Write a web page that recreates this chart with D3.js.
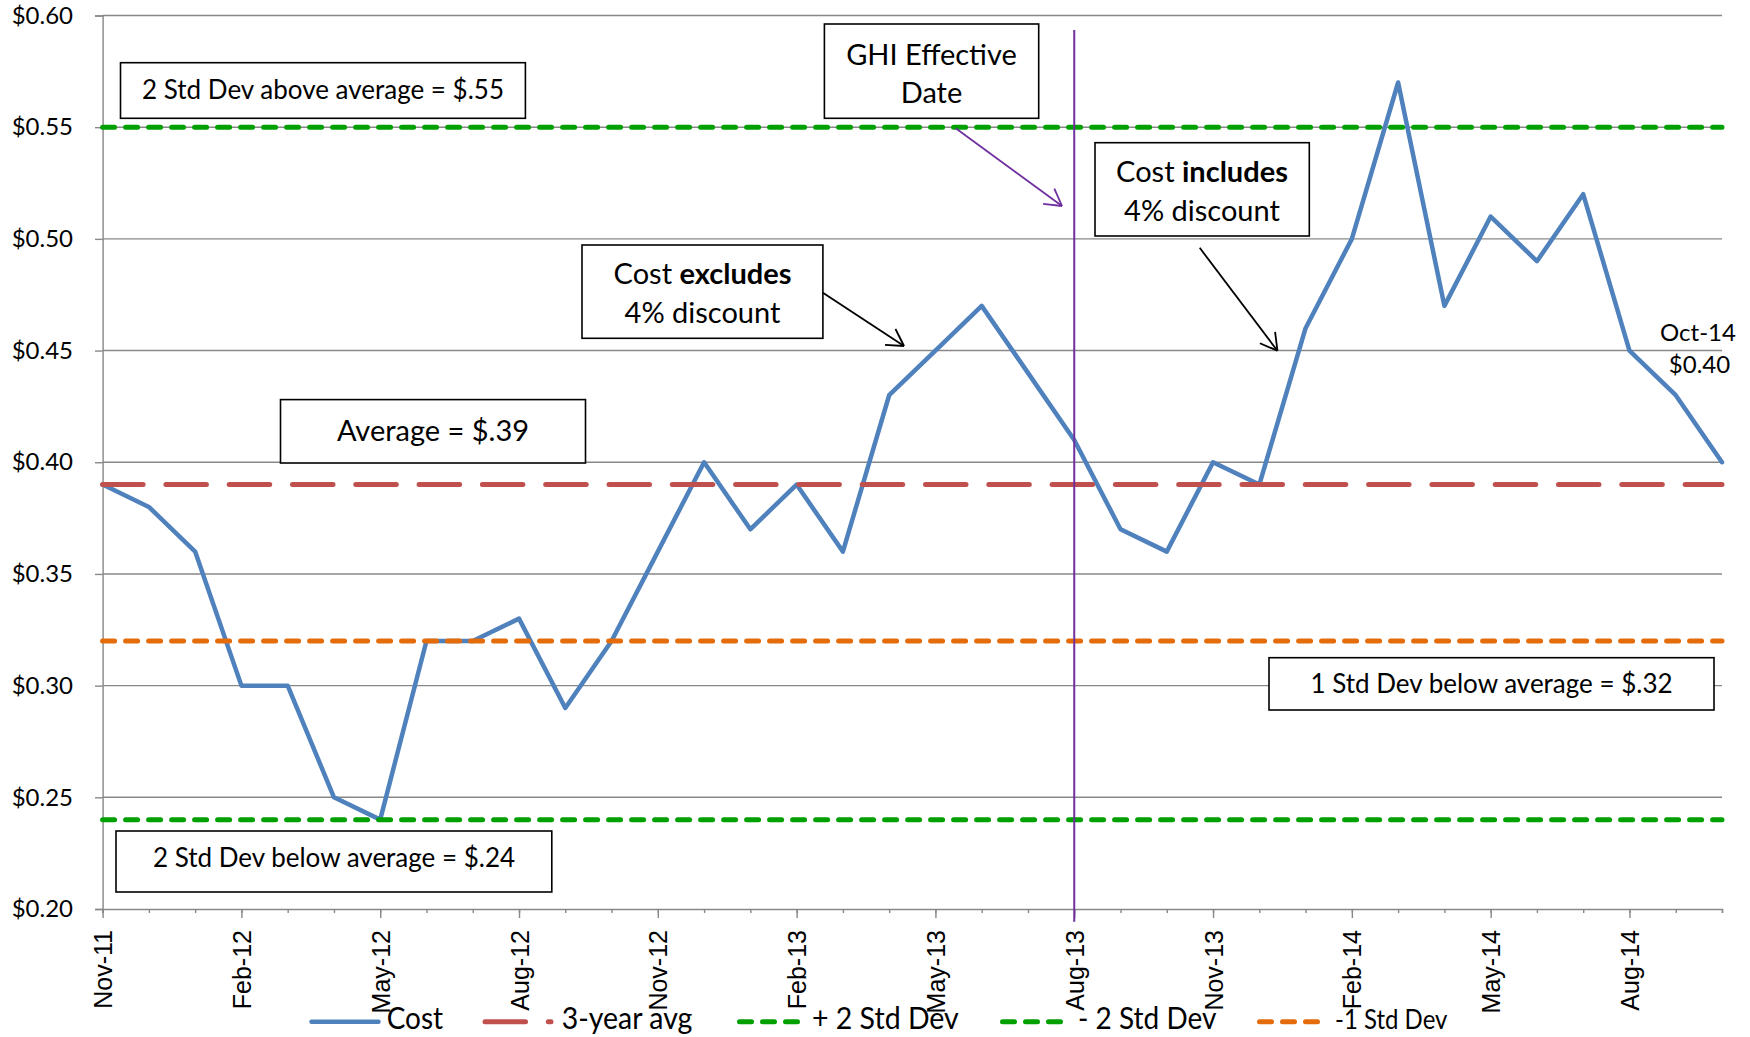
<!DOCTYPE html>
<html>
<head>
<meta charset="utf-8">
<script src="https://cdn.jsdelivr.net/npm/d3@7"></script>
<style>
  html, body { margin: 0; padding: 0; background: #fff; }
  svg { display: block; }
</style>
</head>
<body>
<svg id="chart" width="1750" height="1037"></svg>
<script>
// Monthly cost per unit, Nov-11 through Oct-14
const months = [
  "Nov-11","Dec-11","Jan-12","Feb-12","Mar-12","Apr-12","May-12","Jun-12","Jul-12","Aug-12","Sep-12","Oct-12",
  "Nov-12","Dec-12","Jan-13","Feb-13","Mar-13","Apr-13","May-13","Jun-13","Jul-13","Aug-13","Sep-13","Oct-13",
  "Nov-13","Dec-13","Jan-14","Feb-14","Mar-14","Apr-14","May-14","Jun-14","Jul-14","Aug-14","Sep-14","Oct-14"
];
const cost = [
  0.39, 0.38, 0.36, 0.30, 0.30, 0.25, 0.24, 0.32, 0.32, 0.33, 0.29, 0.32,
  0.36, 0.40, 0.37, 0.39, 0.36, 0.43, 0.45, 0.47, 0.44, 0.41, 0.37, 0.36,
  0.40, 0.39, 0.46, 0.50, 0.57, 0.47, 0.51, 0.49, 0.52, 0.45, 0.43, 0.40
];
// Control limits
const refNames  = ["3-year avg", "+ 2 Std Dev", "- 2 Std Dev", "-1 Std Dev"];
const refValues = [0.39, 0.55, 0.24, 0.32];
// Axis ticks
const xTickLabels = ["Nov-11","Feb-12","May-12","Aug-12","Nov-12","Feb-13","May-13","Aug-13","Nov-13","Feb-14","May-14","Aug-14"];
const yTicks = [0.20, 0.25, 0.30, 0.35, 0.40, 0.45, 0.50, 0.55, 0.60];
const effectiveMonth = "Aug-13";

// ---- styles ----
const costStyle = { color: "#4F81BD", width: 4.5 };
const refStyle = {
  "3-year avg":  { color: "#C0504D", width: 5, dash: "40.5 22.8" },
  "+ 2 Std Dev": { color: "#00A000", width: 5, dash: "12 11" },
  "- 2 Std Dev": { color: "#00A000", width: 5, dash: "12 11" },
  "-1 Std Dev":  { color: "#E46C0A", width: 5, dash: "12 11" }
};
const axisColor = "#888888";
const purple = "#7030A0";
const textFont = "Lato, 'Open Sans', sans-serif";
const tickFont = "'Liberation Sans', Arial, sans-serif";

const plot = { left: 102.6, right: 1722, top: 15.5, bottom: 909 };
const svg = d3.select("#chart");

const x = d3.scalePoint().domain(months).range([plot.left, plot.right]);
const y = d3.scaleLinear().domain([0.20, 0.60]).range([plot.bottom, plot.top]);

// ---- gridlines ----
svg.append("g").selectAll("line")
  .data(yTicks.filter(v => v > 0.20))
  .join("line")
  .attr("x1", plot.left).attr("x2", plot.right)
  .attr("y1", d => y(d)).attr("y2", d => y(d))
  .attr("stroke", axisColor).attr("stroke-width", 1.4);

// ---- y axis ----
const yAxis = svg.append("g")
  .attr("transform", `translate(${plot.left},0)`)
  .call(d3.axisLeft(y).tickValues(yTicks).tickFormat(d3.format("$.2f")).tickSize(7.6).tickPadding(22));
yAxis.select(".domain").attr("stroke", axisColor).attr("stroke-width", 1.4);
yAxis.selectAll(".tick line").attr("stroke", axisColor).attr("stroke-width", 1.4);
yAxis.selectAll(".tick text")
  .attr("fill", "#000").style("font-family", textFont).style("font-size", "24px");

// ---- x axis: monthly minor ticks, quarterly labelled ticks ----
const xMinor = svg.append("g")
  .attr("transform", `translate(0,${plot.bottom})`)
  .call(d3.axisBottom(x).tickValues(months).tickSize(4).tickFormat(""));
xMinor.select(".domain").attr("stroke", axisColor).attr("stroke-width", 1.4);
xMinor.selectAll(".tick line").attr("stroke", axisColor).attr("stroke-width", 1.4);

const xMajor = svg.append("g")
  .attr("transform", `translate(0,${plot.bottom})`)
  .call(d3.axisBottom(x).tickValues(xTickLabels).tickSize(9));
xMajor.select(".domain").remove();
xMajor.selectAll(".tick line").attr("stroke", axisColor).attr("stroke-width", 1.4);
xMajor.selectAll(".tick text")
  .attr("fill", "#000")
  .style("font-family", tickFont).style("font-size", "25px")
  .attr("text-anchor", "end")
  .attr("transform", "translate(0,21) rotate(-90)")
  .attr("x", 0).attr("y", 0).attr("dy", "0.36em");

// ---- cost series ----
const costLine = d3.line()
  .x((d, i) => x(months[i]))
  .y(d => y(d));
svg.append("path")
  .datum(cost)
  .attr("d", costLine)
  .attr("fill", "none")
  .attr("stroke", costStyle.color)
  .attr("stroke-width", costStyle.width)
  .attr("stroke-linejoin", "round")
  .attr("stroke-linecap", "round");

// ---- control limit series ----
svg.append("g").selectAll("line")
  .data(refNames)
  .join("line")
  .attr("x1", x(months[0]))
  .attr("x2", x(months[months.length - 1]))
  .attr("y1", (d, i) => y(refValues[i]))
  .attr("y2", (d, i) => y(refValues[i]))
  .attr("stroke", d => refStyle[d].color)
  .attr("stroke-width", d => refStyle[d].width)
  .attr("stroke-dasharray", d => refStyle[d].dash)
  .attr("stroke-linecap", "round");

// ---- effective date marker ----
svg.append("line")
  .attr("x1", x(effectiveMonth)).attr("x2", x(effectiveMonth))
  .attr("y1", 30).attr("y2", plot.bottom + 12.7)
  .attr("stroke", purple).attr("stroke-width", 2);

// ---- callout boxes ----
function box(x0, y0, x1, y1) {
  svg.append("rect")
    .attr("x", x0).attr("y", y0)
    .attr("width", x1 - x0).attr("height", y1 - y0)
    .attr("fill", "#fff").attr("stroke", "#000").attr("stroke-width", 1.6);
}
function label(cx, baseline, parts, size) {
  const t = svg.append("text")
    .attr("x", cx).attr("y", baseline)
    .attr("text-anchor", "middle")
    .style("font-family", textFont)
    .style("font-size", size + "px")
    .attr("fill", "#000");
  parts.forEach(p => {
    t.append("tspan").text(p.t).style("font-weight", p.b ? "bold" : "normal");
  });
}
const limitSize = 26, noteSize = 29;

box(120.5, 62.7, 525.4, 118.3);
label(323, 99, [{ t: "2 Std Dev above average = $.55" }], limitSize);

box(280.5, 399.6, 585.5, 463);
label(433, 441, [{ t: "Average = $.39" }], noteSize);

box(116, 831, 551.8, 892);
label(334, 867.4, [{ t: "2 Std Dev below average = $.24" }], limitSize);

box(1269, 657.7, 1714, 710);
label(1491.5, 693.3, [{ t: "1 Std Dev below average = $.32" }], limitSize);

box(824.4, 24, 1038.7, 118.3);
label(931.5, 64.5, [{ t: "GHI Effective" }], noteSize);
label(931.5, 103, [{ t: "Date" }], noteSize);

box(582, 245, 822.9, 338.3);
label(702.5, 283.8, [{ t: "Cost " }, { t: "excludes", b: true }], noteSize);
label(702.5, 323, [{ t: "4% discount" }], noteSize);

box(1095, 142.7, 1309.3, 236);
label(1202, 182.2, [{ t: "Cost " }, { t: "includes", b: true }], noteSize);
label(1202, 221, [{ t: "4% discount" }], noteSize);

// ---- arrows with open heads ----
function arrow(x1, y1, x2, y2, color, w) {
  const g = svg.append("g").attr("stroke", color).attr("stroke-width", w).attr("fill", "none");
  g.append("line").attr("x1", x1).attr("y1", y1).attr("x2", x2).attr("y2", y2);
  const a = Math.atan2(y1 - y2, x1 - x2);
  const len = 19, spread = Math.PI / 6;
  [a - spread, a + spread].forEach(b => {
    g.append("line")
      .attr("x1", x2).attr("y1", y2)
      .attr("x2", x2 + len * Math.cos(b)).attr("y2", y2 + len * Math.sin(b));
  });
}
arrow(955.7, 128.3, 1062, 206, purple, 1.8);
arrow(822.9, 292.7, 904, 346, "#000", 1.8);
arrow(1199.7, 247.8, 1277.4, 350.7, "#000", 1.8);

// ---- last value label ----
const lastMonth = months[months.length - 1];
const lastValue = cost[cost.length - 1];
svg.append("text")
  .attr("x", 1698).attr("y", 341)
  .attr("text-anchor", "middle")
  .style("font-family", textFont).style("font-size", "24px")
  .text(lastMonth);
svg.append("text")
  .attr("x", 1699.5).attr("y", 372.5)
  .attr("text-anchor", "middle")
  .style("font-family", textFont).style("font-size", "24px")
  .text(d3.format("$.2f")(lastValue));

// ---- legend ----
const legendY = 1021.7;
const legendBase = 1029;
const legendItems = [
  { name: "Cost",        x0: 311.5, x1: 378.5, tx: 386.7, size: 28 },
  { name: refNames[0],   x0: 485,   x1: 551,   tx: 561.7, size: 28.5 },
  { name: refNames[1],   x0: 739.5, x1: 797.5, tx: 812,   size: 28.5 },
  { name: refNames[2],   x0: 1002.5, x1: 1060.5, tx: 1078, size: 28 },
  { name: refNames[3],   x0: 1259.5, x1: 1318,  tx: 1335,  size: 24 }
];
const legend = svg.append("g");
legendItems.forEach(it => {
  const st = it.name === "Cost" ? costStyle : refStyle[it.name];
  legend.append("line")
    .attr("x1", it.x0).attr("x2", it.x1)
    .attr("y1", legendY).attr("y2", legendY)
    .attr("stroke", st.color)
    .attr("stroke-width", st.width)
    .attr("stroke-linecap", "round")
    .attr("stroke-dasharray", st.dash || null);
  legend.append("text")
    .attr("transform", `translate(${it.tx},${legendBase}) scale(1,1.1)`)
    .style("font-family", textFont)
    .style("font-size", it.size + "px")
    .attr("fill", "#000")
    .text(it.name);
});
</script>
</body>
</html>
